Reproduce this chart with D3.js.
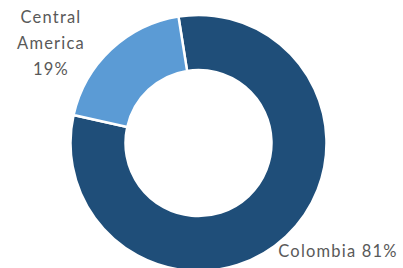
<!DOCTYPE html>
<html>
<head>
<meta charset="utf-8">
<script src="https://cdn.jsdelivr.net/npm/d3@7"></script>
<style>
  body { margin: 0; background: #fff; }
  svg text { font-family: Lato, "Open Sans", sans-serif; fill: #595959; }
</style>
</head>
<body>
<div id="chart"></div>
<script>
const categories = ["Colombia", "Central America"];
const shares = [81, 19];
const labels = [["Colombia 81%"], ["Central", "America", "19%"]];
const colors = ["#1f4e79", "#5b9bd5"];

const width = 403;
const height = 268;
const cx = 198.5, cy = 143;
const outerR = 128, innerR = 73;

const svg = d3.select("#chart")
    .append("svg")
    .attr("width", width)
    .attr("height", height);

const data = categories.map((c, i) => ({ name: c, value: shares[i], lines: labels[i] }));

const offset = -9 * Math.PI / 180;
const pie = d3.pie()
    .value(d => d.value)
    .sort(null)
    .startAngle(offset)
    .endAngle(offset + 2 * Math.PI);

const arc = d3.arc().innerRadius(innerR).outerRadius(outerR);

const g = svg.append("g").attr("transform", `translate(${cx},${cy})`);

g.selectAll("path")
    .data(pie(data))
    .join("path")
    .attr("d", arc)
    .attr("fill", (d, i) => colors[i])
    .attr("stroke", "#fff")
    .attr("stroke-width", 2.5)
    .attr("stroke-linejoin", "miter");

// label positions (outside the ring)
const labelPos = [
    { x: 338, y: 257, anchor: "middle" },
    { x: 51, y: 23, anchor: "middle" }
];

data.forEach((d, i) => {
    const t = svg.append("text")
        .attr("x", labelPos[i].x)
        .attr("y", labelPos[i].y)
        .attr("text-anchor", labelPos[i].anchor)
        .attr("font-size", 16.5)
        .attr("letter-spacing", 1.2);
    d.lines.forEach((line, k) => {
        t.append("tspan")
            .attr("x", labelPos[i].x)
            .attr("dy", k === 0 ? 0 : 26)
            .text(line);
    });
});
</script>
</body>
</html>
